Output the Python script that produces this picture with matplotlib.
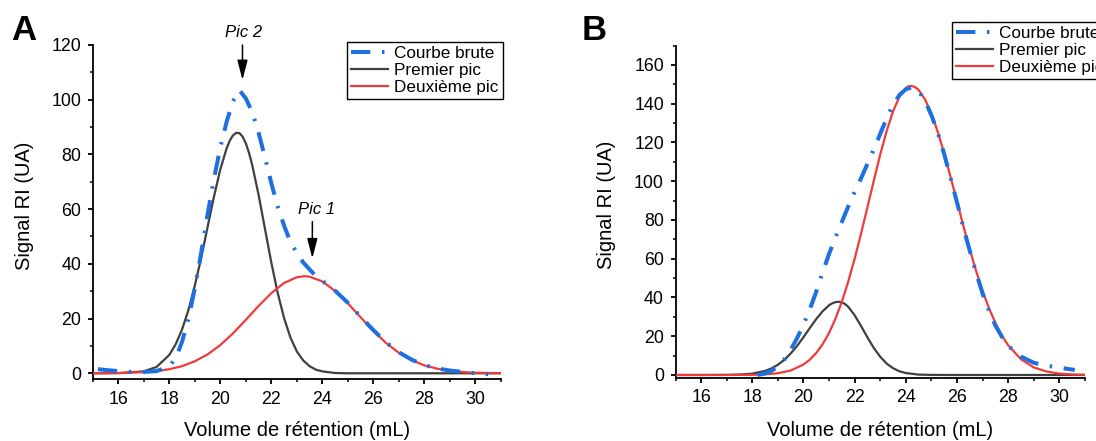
import matplotlib
matplotlib.use("Agg")
import matplotlib.pyplot as plt
from matplotlib.ticker import MultipleLocator

plt.rcParams['font.family'] = ['Liberation Sans', 'DejaVu Sans']

# ---------------- Data: panel A ----------------
xa_brute = [15.2, 15.5, 16.0, 16.5, 17.0, 17.5, 18.0, 18.25, 18.5, 18.75, 19.0, 19.25, 19.5,
            19.75, 20.0, 20.25, 20.5, 20.75, 21.0, 21.25, 21.5, 21.75, 22.0, 22.25, 22.5,
            22.75, 23.0, 23.25, 23.5, 23.75, 24.0, 24.5, 25.0, 25.5, 26.0, 26.5, 27.0,
            27.5, 28.0, 28.5, 29.0, 29.5, 30.0, 30.5]
ya_brute = [1.5, 1.2, 0.8, 0.5, 0.5, 0.8, 2.5, 5.5, 11.5, 20.0, 31.0, 44.0, 58.0,
            71.0, 82.5, 92.0, 99.5, 103.5, 100.5, 95.5, 88.0, 79.0, 69.5, 61.0, 54.0,
            48.0, 44.0, 40.5, 38.0, 35.5, 33.8, 30.2, 25.8, 20.7, 15.8, 11.3, 7.7,
            5.0, 3.0, 1.8, 1.0, 0.5, 0.0, -0.3]

xa_pic1 = [15, 16, 17, 17.5, 18, 18.25, 18.5, 18.75, 19, 19.25, 19.5, 19.75, 20, 20.25,
           20.375, 20.5, 20.625, 20.75, 20.875, 21, 21.125, 21.25, 21.5, 21.75, 22, 22.25,
           22.5, 22.75, 23, 23.25, 23.5, 23.75, 24, 24.5, 25, 26, 28, 31]
ya_pic1 = [0, 0.05, 0.7, 2.3, 6.7, 10.6, 16.0, 23.1, 32.0, 42.2, 53.4, 64.5, 74.5, 82.3,
           85.1, 87.0, 87.9, 87.8, 86.5, 84.1, 80.6, 76.2, 65.3, 52.9, 40.5, 29.4,
           20.2, 13.1, 8.0, 4.7, 2.6, 1.3, 0.7, 0.1, 0, 0, 0, 0]

xa_pic2 = [15, 16, 17, 17.5, 18, 18.5, 19, 19.5, 20, 20.5, 21, 21.5, 22, 22.5, 23, 23.3,
           23.5, 24, 24.5, 25, 25.5, 26, 26.5, 27, 27.5, 28, 28.5, 29, 29.5, 30, 30.5, 31]
ya_pic2 = [0, 0.1, 0.4, 0.8, 1.5, 2.6, 4.4, 6.9, 10.3, 14.6, 19.5, 24.6, 29.3, 33.0, 35.1,
           35.5, 35.3, 33.6, 30.1, 25.6, 20.5, 15.5, 11.1, 7.5, 4.8, 2.9, 1.7, 0.9, 0.45,
           0.2, 0.1, 0.04]

# ---------------- Data: panel B ----------------
xb_brute = [18.2, 18.5, 18.75, 19.0, 19.25, 19.5, 19.75, 20.0, 20.25, 20.5, 20.75, 21.0,
            21.25, 21.5, 21.75, 22.0, 22.25, 22.5, 22.75, 23.0, 23.25, 23.5, 23.75, 24.0,
            24.25, 24.5, 24.75, 25.0, 25.25, 25.5, 25.75, 26.0, 26.25, 26.5, 26.75, 27.0,
            27.25, 27.5, 27.75, 28.0, 28.5, 29.0, 29.5, 30.0, 30.6]
yb_brute = [0.0, 0.8, 2.2, 4.3, 8.0, 13.0, 19.0, 26.0, 34.0, 43.0, 53.0, 62.5,
            71.0, 79.0, 87.0, 94.5, 101.5, 109.0, 116.5, 124.5, 132.5, 139.5, 144.5, 147.5,
            148.5, 146.5, 141.5, 134.0, 125.0, 114.0, 101.5, 89.0, 76.0, 64.0, 52.5, 42.0,
            33.0, 25.5, 19.8, 15.0, 9.5, 6.3, 4.8, 3.8, 2.6]

xb_pic1 = [15, 16, 17, 17.5, 18, 18.5, 18.75, 19, 19.25, 19.5, 19.75, 20, 20.25, 20.5,
           20.75, 21, 21.125, 21.25, 21.38, 21.5, 21.625, 21.75, 22, 22.25, 22.5, 22.75,
           23, 23.25, 23.5, 23.75, 24, 24.5, 25, 26, 28, 31]
yb_pic1 = [0, 0, 0.05, 0.2, 0.7, 2.1, 3.4, 5.3, 7.8, 11.1, 15.0, 19.5, 24.3, 28.9,
           32.9, 36.0, 37.0, 37.6, 37.8, 37.5, 36.6, 35.2, 30.8, 25.3, 19.4, 13.9,
           9.4, 5.9, 3.5, 1.9, 1.0, 0.2, 0.04, 0, 0, 0]

xb_pic2 = [15, 17, 18, 18.5, 19, 19.5, 20, 20.25, 20.5, 20.75, 21, 21.25, 21.5, 21.75, 22,
           22.25, 22.5, 22.75, 23, 23.25, 23.5, 23.75, 24, 24.1, 24.2, 24.35, 24.5, 24.75,
           25, 25.25, 25.5, 25.75, 26, 26.25, 26.5, 26.75, 27, 27.25, 27.5, 27.75, 28,
           28.5, 29, 29.5, 30, 30.5, 31]
yb_pic2 = [0, 0.01, 0.1, 0.33, 0.9, 2.3, 5.4, 7.9, 11.4, 15.9, 21.7, 29.0, 37.8, 48.2, 60.0,
           73.0, 86.6, 100.4, 113.8, 125.9, 136.1, 143.6, 148.1, 149.0, 149.2, 148.7, 147.1,
           142.2, 134.9, 125.4, 114.3, 102.1, 89.5, 76.8, 64.7, 53.5, 43.3, 34.4, 26.8,
           20.4, 15.3, 8.1, 3.9, 1.8, 0.7, 0.3, 0.1]

labels = ["Courbe brute", "Premier pic", "Deuxième pic"]
xticks = [16, 18, 20, 22, 24, 26, 28, 30]

BLUE = '#1E6FE0'
GRAY = '#404040'
RED = '#EE3B3B'

W, H = 1096, 441
fig = plt.figure(figsize=(W / 100, H / 100), dpi=100)


def px_axes(left, top, right, bottom):
    return fig.add_axes([left / W, 1 - bottom / H, (right - left) / W, (bottom - top) / H])


def style(ax, ylim, ymajor):
    ax.set_xlim(15, 31)
    ax.set_ylim(*ylim)
    for s in ('top', 'right'):
        ax.spines[s].set_visible(False)
    for s in ('left', 'bottom'):
        ax.spines[s].set_linewidth(1.3)
    ax.set_xticks(xticks)
    ax.xaxis.set_minor_locator(MultipleLocator(1))
    ax.yaxis.set_major_locator(MultipleLocator(ymajor))
    ax.yaxis.set_minor_locator(MultipleLocator(ymajor / 2))
    ax.tick_params(which='major', direction='out', length=3.8, width=1.3, labelsize=12.8, pad=4.5)
    ax.tick_params(which='minor', direction='out', length=2.2, width=1.1)
    ax.set_xlabel("Volume de rétention (mL)", fontsize=14.5, va='center')
    ax.set_ylabel("Signal RI (UA)", fontsize=14.5, va='center')


def draw(ax, xb, yb, x1, y1, x2, y2):
    ax.plot(x1, y1, color=GRAY, lw=1.6, label=labels[1], zorder=2)
    ax.plot(x2, y2, color=RED, lw=1.6, label=labels[2], zorder=3)
    ax.plot(xb, yb, color=BLUE, lw=2.9, linestyle=(0, (4.8, 2.9, 0.6, 2.9)),
            dash_capstyle='butt', label=labels[0], zorder=4)
    h, l = ax.get_legend_handles_labels()
    order = [2, 0, 1]
    return [h[i] for i in order], [l[i] for i in order]


def legend(ax, h, l, x, y):
    leg = ax.legend(h, l, loc='upper left', bbox_to_anchor=(x / W, 1 - y / H),
                    bbox_transform=fig.transFigure, fontsize=12.3, frameon=True,
                    fancybox=False, framealpha=1, edgecolor='black', borderaxespad=0,
                    borderpad=0.25, labelspacing=0.12, handlelength=2.17,
                    handletextpad=0.35)
    leg.get_frame().set_linewidth(1.0)


# Panel A
axA = px_axes(92.8, 45.0, 500.8, 379.3)
hA, lA = draw(axA, xa_brute, ya_brute, xa_pic1, ya_pic1, xa_pic2, ya_pic2)
style(axA, (-2.2, 120), 20)
axA.xaxis.set_label_coords(0.5, (379.3 - 430) / 334.3)
axA.yaxis.set_label_coords((25 - 92.8) / 408, 0.52)
legend(axA, hA, lA, 347, 41.7)

arrow = dict(arrowstyle='-|>,head_length=1.2,head_width=0.31', color='black', lw=1.1,
             shrinkA=0, shrinkB=0, mutation_scale=10)
axA.annotate('', xy=(20.87, 107.2), xytext=(20.87, 120), arrowprops=arrow, annotation_clip=False)
axA.text(20.93, 124.6, "Pic 2", fontsize=12, style='italic', ha='center', va='center')
axA.annotate('', xy=(23.61, 42.0), xytext=(23.61, 55.4), arrowprops=arrow)
axA.text(23.78, 59.7, "Pic 1", fontsize=12, style='italic', ha='center', va='center')

# Panel B
axB = px_axes(675.5, 45.6, 1085.0, 377.9)
hB, lB = draw(axB, xb_brute, yb_brute, xb_pic1, yb_pic1, xb_pic2, yb_pic2)
style(axB, (-1.5, 170), 20)
axB.xaxis.set_label_coords(0.5, (377.9 - 430) / 332.3)
axB.yaxis.set_label_coords((606 - 675.5) / 409.5, 0.52)
legend(axB, hB, lB, 952, 21.5)

fig.text(24 / W, 1 - 30 / H, "A", fontsize=25, fontweight='bold', ha='center', va='center')
fig.text(594.5 / W, 1 - 30 / H, "B", fontsize=25, fontweight='bold', ha='center', va='center')

fig.savefig("out.png", dpi=100)
